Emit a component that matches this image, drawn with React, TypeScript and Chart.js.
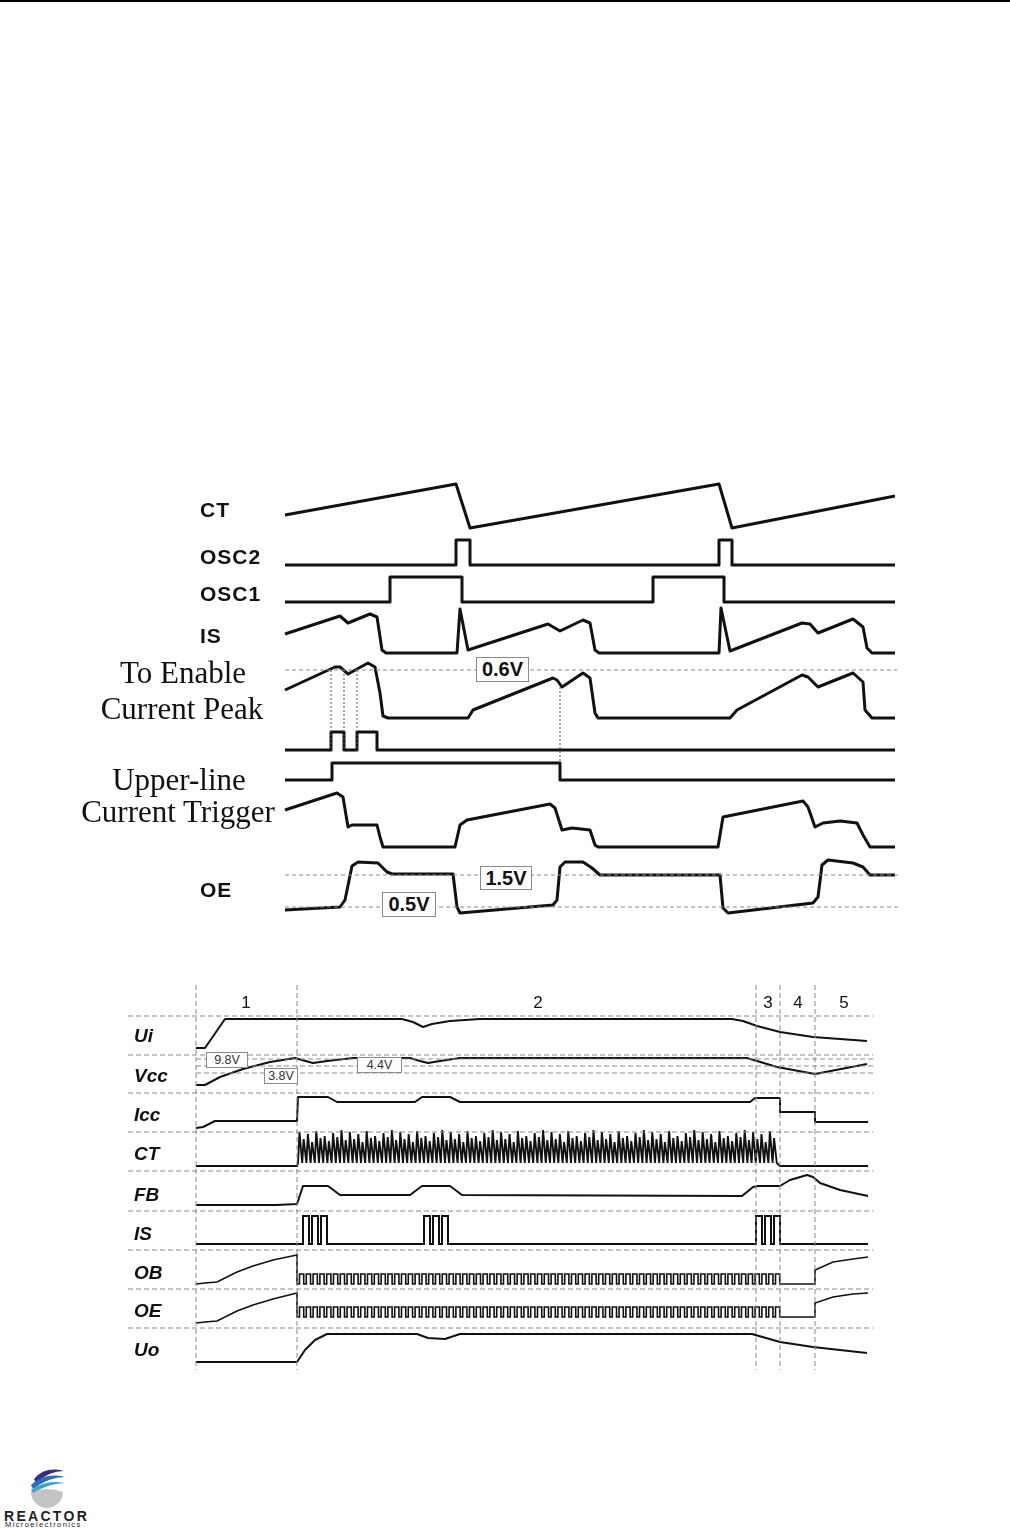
import React, { useEffect, useRef } from "react";
import { Chart, registerables } from "chart.js";

Chart.register(...registerables);

type P = [number, number];

// ================= TOP DIAGRAM =================
// time (diagram units from trace start), level (units above the trace's own low level)
const TOP_CT: P[] = [[0, 13], [171, 44], [185, 0], [434, 44], [447, 0], [610, 32]];
const TOP_OSC2: P[] = [[0, 0], [171, 0], [171, 25], [185, 25], [185, 0], [434, 0], [434, 25], [447, 25], [447, 0], [610, 0]];
const TOP_OSC1: P[] = [[0, 0], [105, 0], [105, 25], [177, 25], [177, 0], [368, 0], [368, 25], [439, 25], [439, 0], [610, 0]];
const TOP_IS: P[] = [
  [0, 19], [55, 37], [63, 30], [85, 39], [92, 36], [97, 3], [101, 0], [172, 0], [175, 44], [183, 3],
  [263, 29], [275, 22], [298, 33], [305, 30], [310, 3], [314, 0], [434, 0], [436, 45], [445, 2],
  [517, 30], [525, 29], [533, 20], [568, 34], [578, 26], [582, 5], [587, 0], [610, 0],
];
const TOP_PEAK: P[] = [
  [0, 28], [50, 51], [55, 51], [63, 44], [83, 55], [90, 51], [95, 25], [98, 2], [103, 0], [183, 0],
  [188, 8], [268, 40], [272, 38], [277, 31], [298, 45], [305, 40], [310, 5], [313, 0], [445, 0],
  [452, 8], [517, 43], [523, 41], [533, 31], [568, 45], [578, 36], [580, 8], [587, 0], [610, 0],
];
const TOP_CMP: P[] = [[0, 0], [46, 0], [46, 18], [59, 18], [59, 0], [72, 0], [72, 18], [92, 18], [92, 0], [610, 0]];
const TOP_UPPER: P[] = [[0, 0], [47, 0], [47, 17], [275, 17], [275, 0], [610, 0]];
const TOP_TRIG: P[] = [
  [0, 37], [52, 54], [58, 50], [63, 20], [67, 22], [92, 22], [95, 10], [98, 0], [170, 0], [175, 22],
  [182, 27], [265, 43], [270, 39], [277, 17], [287, 19], [305, 17], [310, 2], [313, 0], [433, 0],
  [438, 30], [518, 46], [523, 40], [530, 20], [538, 24], [555, 26], [572, 24], [578, 12], [585, 0], [610, 0],
];
const TOP_OE: P[] = [
  [0, 3], [55, 6], [60, 13], [67, 47], [73, 51], [93, 50], [102, 41], [107, 39], [168, 39], [172, 6],
  [175, 0], [268, 8], [272, 13], [275, 46], [280, 51], [298, 51], [307, 45], [315, 38], [435, 38],
  [438, 5], [443, 0], [528, 10], [533, 16], [537, 48], [543, 53], [568, 50], [578, 46], [585, 38], [610, 38],
];
// threshold levels
const TOP_TH_06 = 48; // on TOP_PEAK row
const TOP_TH_15 = 38; // on TOP_OE row
const TOP_TH_05 = 6; // on TOP_OE row
// comparator marker times
const TOP_MARK_T = [46, 59, 72, 275];
const TOP_LABELS = ["CT", "OSC2", "OSC1", "IS", "OE"];
const TOP_SERIF_LABELS = ["To Enable", "Current Peak", "Upper-line", "Current Trigger"];
const TOP_VALUE_TAGS = ["0.6V", "1.5V", "0.5V"];

// ================= BOTTOM DIAGRAM =================
const BOT_PHASES = ["1", "2", "3", "4", "5"];
const BOT_PHASE_T = [0, 101, 560, 584, 619, 672];
const BOT_ROWS = ["Ui", "Vcc", "Icc", "CT", "FB", "IS", "OB", "OE", "Uo"];
const BOT_UI: P[] = [
  [0, 0], [9, 0], [29, 29], [206, 29], [217, 26], [227, 21], [236, 24], [254, 27], [284, 29],
  [536, 29], [547, 27], [561, 22], [584, 16], [617, 11], [671, 7],
];
const BOT_VCC: P[] = [
  [0, 0], [9, 0], [24, 8], [47, 16], [74, 23], [99, 27], [106, 25], [117, 22], [131, 24], [157, 27],
  [214, 27], [224, 24], [232, 22], [244, 24], [264, 27], [551, 27], [561, 24], [581, 18], [619, 11], [671, 21],
];
const BOT_VCC_TAGS = ["9.8V", "3.8V", "4.4V"];
const BOT_ICC: P[] = [
  [0, 0], [7, 1], [19, 7], [101, 7], [102, 31], [132, 31], [141, 26], [219, 26], [226, 31], [254, 31],
  [264, 26], [554, 26], [559, 30], [584, 30], [584, 16], [619, 16], [619, 6], [672, 6],
];
// CT burst: start/end times, tooth period, repeating tooth peak levels, tooth floor
const BOT_CT_START = 102;
const BOT_CT_END = 584;
const BOT_CT_PERIOD = 4.2;
const BOT_CT_PEAKS = [34, 27, 32, 24, 35, 28, 30, 25, 33, 29, 36, 26];
const BOT_CT_FLOOR = 3;
const BOT_FB: P[] = [
  [0, 0], [81, 0], [101, 1], [107, 19], [132, 19], [144, 10], [214, 10], [226, 19], [254, 19], [266, 10],
  [546, 9], [557, 18], [562, 19], [584, 19], [594, 25], [611, 30], [617, 28], [624, 22], [644, 15], [672, 9],
];
const BOT_IS_PULSES: P[] = [
  [107, 113], [116, 122], [125, 131],
  [228, 234], [237, 243], [246, 252],
  [560, 566], [569, 575], [578, 584],
];
const BOT_IS_HIGH = 28;
const BOT_IS_END = 672;
const BOT_OB_RISE: P[] = [[0, 0], [9, 1], [21, 2], [41, 12], [57, 18], [77, 24], [101, 29]];
const BOT_OB_TAIL: P[] = [[619, 0], [619, 14], [637, 22], [657, 25], [672, 27]];
const BOT_OE_RISE: P[] = [[0, 0], [9, 1], [21, 2], [41, 12], [57, 18], [77, 24], [101, 30]];
const BOT_OE_TAIL: P[] = [[619, 6], [619, 20], [637, 26], [657, 29], [672, 30]];
const BOT_SQ_PERIOD = 6.8;
const BOT_SQ_DUTY = 0.62;
const BOT_SQ_AMP = 10;
const BOT_OE_SQ_LOW = 6;
const BOT_UO: P[] = [
  [0, 0], [101, 0], [109, 12], [119, 22], [131, 28], [221, 28], [232, 24], [249, 23], [264, 28],
  [556, 28], [584, 20], [617, 15], [671, 9],
];

// ================= LAYOUT =================
const TOP_X0 = 285;
const TOP_CANVAS = { top: 460, height: 480 };
const TOP_BASE = { CT: 528, OSC2: 565, OSC1: 602, IS: 653, PEAK: 718, CMP: 750, UPPER: 780, TRIG: 847, OE: 913 };
const BOT_X0 = 196;
const BOT_CANVAS = { top: 975, height: 410 };
const BOT_BASE = { Ui: 1048, Vcc: 1085, Icc: 1128, CT: 1166, FB: 1205, IS: 1244, OB: 1284, OE: 1323, Uo: 1362 };
const BOT_GRID_Y = [1016, 1055, 1093, 1132, 1171, 1211, 1250, 1289, 1328];
const BOT_VCC_REF_Y = [1059, 1066, 1073];

const INK = "#111";
const GRID = "#8a8a8a";

type DS = any;

function trace(pts: P[], base: number, width: number, extra: any = {}): DS {
  return {
    data: pts.map(([t, v]) => ({ x: t, y: base - v })),
    showLine: true,
    borderColor: INK,
    borderWidth: width,
    pointRadius: 0,
    fill: false,
    tension: 0,
    borderJoinStyle: "round",
    borderCapStyle: "butt",
    ...extra,
  };
}

function seg(x1: number, y1: number, x2: number, y2: number, width = 1, dash: number[] = [4, 3], color = GRID): DS {
  return {
    data: [{ x: x1, y: y1 }, { x: x2, y: y2 }],
    showLine: true,
    borderColor: color,
    borderWidth: width,
    borderDash: dash,
    pointRadius: 0,
    fill: false,
  };
}

function ctBurst(): P[] {
  const out: P[] = [[0, 0], [BOT_CT_START - 1, 0], [BOT_CT_START, BOT_CT_FLOOR]];
  let i = 0;
  for (let t = BOT_CT_START; t + BOT_CT_PERIOD <= BOT_CT_END + 0.5; t += BOT_CT_PERIOD, i++) {
    out.push([t + BOT_CT_PERIOD * 0.35, BOT_CT_PEAKS[i % BOT_CT_PEAKS.length]]);
    out.push([t + BOT_CT_PERIOD, BOT_CT_FLOOR]);
  }
  out.push([BOT_CT_END, 0], [672, 0]);
  return out;
}

function squareRun(rise: P[], tail: P[], low: number): P[] {
  const out: P[] = [...rise];
  const t0 = rise[rise.length - 1][0];
  out.push([t0, low]);
  for (let t = t0 + 2.5; t + BOT_SQ_PERIOD * BOT_SQ_DUTY < BOT_PHASE_T[3]; t += BOT_SQ_PERIOD) {
    out.push([t, low], [t, low + BOT_SQ_AMP], [t + BOT_SQ_PERIOD * BOT_SQ_DUTY, low + BOT_SQ_AMP], [t + BOT_SQ_PERIOD * BOT_SQ_DUTY, low]);
  }
  out.push([BOT_PHASE_T[3], low], ...tail);
  return out;
}

function isPulses(): P[] {
  const out: P[] = [[0, 0]];
  BOT_IS_PULSES.forEach(([a, b]) => {
    out.push([a, 0], [a, BOT_IS_HIGH], [b, BOT_IS_HIGH], [b, 0]);
  });
  out.push([BOT_IS_END, 0]);
  return out;
}

function topDatasets(): DS[] {
  const ds: DS[] = [];
  ds.push(seg(0, TOP_BASE.PEAK - TOP_TH_06, 612, TOP_BASE.PEAK - TOP_TH_06, 1, [4, 3]));
  ds.push(seg(0, TOP_BASE.OE - TOP_TH_15, 615, TOP_BASE.OE - TOP_TH_15, 1, [4, 3]));
  ds.push(seg(0, TOP_BASE.OE - TOP_TH_05, 615, TOP_BASE.OE - TOP_TH_05, 1, [4, 3]));
  TOP_MARK_T.forEach((t, i) => {
    const last = i === TOP_MARK_T.length - 1;
    ds.push(seg(t, last ? 687 : 670, t, last ? TOP_BASE.UPPER - 17 : TOP_BASE.CMP, 1, [2, 2], "#555"));
  });
  const w = 3;
  ds.push(trace(TOP_CT, TOP_BASE.CT, w));
  ds.push(trace(TOP_OSC2, TOP_BASE.OSC2, w));
  ds.push(trace(TOP_OSC1, TOP_BASE.OSC1, w));
  ds.push(trace(TOP_IS, TOP_BASE.IS, w));
  ds.push(trace(TOP_PEAK, TOP_BASE.PEAK, w));
  ds.push(trace(TOP_CMP, TOP_BASE.CMP, w));
  ds.push(trace(TOP_UPPER, TOP_BASE.UPPER, w));
  ds.push(trace(TOP_TRIG, TOP_BASE.TRIG, w));
  ds.push(trace(TOP_OE, TOP_BASE.OE, w));
  return ds;
}

function botDatasets(): DS[] {
  const ds: DS[] = [];
  const gx0 = 128 - BOT_X0;
  const gx1 = 873 - BOT_X0;
  BOT_GRID_Y.forEach((y) => ds.push(seg(gx0, y, gx1, y, 1, [5, 3])));
  BOT_VCC_REF_Y.forEach((y) => ds.push(seg(0, y, gx1, y, 1, [5, 3])));
  BOT_PHASE_T.slice(0, 5).forEach((t) => ds.push(seg(t, 985, t, 1370, 1, [5, 3])));
  const w = 2;
  ds.push(trace(BOT_UI, BOT_BASE.Ui, w));
  ds.push(trace(BOT_VCC, BOT_BASE.Vcc, w));
  ds.push(trace(BOT_ICC, BOT_BASE.Icc, w));
  ds.push(trace(ctBurst(), BOT_BASE.CT, 1.9, { borderJoinStyle: "miter" }));
  ds.push(trace(BOT_FB, BOT_BASE.FB, w));
  ds.push(trace(isPulses(), BOT_BASE.IS, w, { borderJoinStyle: "miter" }));
  ds.push(trace(squareRun(BOT_OB_RISE, BOT_OB_TAIL, 0), BOT_BASE.OB, 1.6, { borderJoinStyle: "miter" }));
  ds.push(trace(squareRun(BOT_OE_RISE, BOT_OE_TAIL, BOT_OE_SQ_LOW), BOT_BASE.OE, 1.6, { borderJoinStyle: "miter" }));
  ds.push(trace(BOT_UO, BOT_BASE.Uo, w));
  return ds;
}

function TimingCanvas({ top, height, x0, build }: { top: number; height: number; x0: number; build: () => DS[] }) {
  const ref = useRef<HTMLCanvasElement | null>(null);
  useEffect(() => {
    if (!ref.current) return;
    const chart = new Chart(ref.current, {
      type: "scatter",
      data: { datasets: build() },
      options: {
        responsive: false,
        animation: false,
        devicePixelRatio: 1,
        events: [],
        layout: { padding: 0 },
        plugins: { legend: { display: false }, tooltip: { enabled: false }, title: { display: false } },
        scales: {
          x: { type: "linear", display: false, min: -x0, max: 1010 - x0 },
          y: { type: "linear", display: false, reverse: true, min: top, max: top + height },
        },
      } as any,
    });
    return () => chart.destroy();
  }, []);
  return (
    <canvas
      ref={ref}
      width={1010}
      height={height}
      style={{ position: "absolute", left: 0, top, width: 1010, height }}
    />
  );
}

const SANS = "'Liberation Sans', Arial, sans-serif";
const SERIF = "'Liberation Serif', 'Times New Roman', serif";

function Txt({ x, base, size, children, style = {}, family = SANS, center = false, w = 300 }: any) {
  const asc = family === SERIF ? 0.8375 : 0.8465;
  return (
    <div
      style={{
        position: "absolute",
        left: center ? x - w / 2 : x,
        width: center ? w : undefined,
        textAlign: center ? "center" : "left",
        top: base - asc * size,
        fontSize: size,
        lineHeight: `${size}px`,
        fontFamily: family,
        whiteSpace: "nowrap",
        color: "#111",
        ...style,
      }}
    >
      {children}
    </div>
  );
}

function Tag({ x, y, w, h, size, bold, children, color = "#111" }: any) {
  return (
    <div
      style={{
        position: "absolute",
        left: x,
        top: y,
        width: w,
        height: h,
        boxSizing: "border-box",
        border: "1px solid #8a8a8a",
        background: "#fff",
        display: "flex",
        alignItems: "center",
        justifyContent: "center",
        fontFamily: SANS,
        fontSize: size,
        fontWeight: bold ? 700 : 400,
        color,
      }}
    >
      {children}
    </div>
  );
}

function Logo() {
  return (
    <div style={{ position: "absolute", left: 0, top: 1462, width: 100, height: 66 }}>
      <svg width={44} height={44} style={{ position: "absolute", left: 25, top: 3 }} viewBox="0 0 44 44">
        <path d="M6 27 A16 16 0 0 0 38 27 Q22 21 6 27 Z" fill="#c4c4c4" />
        <path d="M9 14 Q20 1 39 6 Q24 6 11 18 Z" fill="#3b2d7d" />
        <path d="M6 20 Q20 7 40 12 Q24 12 8 24 Z" fill="#2c6db3" />
        <path d="M6 25 Q21 14 40 18 Q25 18 8 28 Z" fill="#3aa3d8" />
      </svg>
      <div style={{ position: "absolute", left: 4, top: 47, fontFamily: SANS, fontWeight: 700, fontSize: 14, letterSpacing: 2.3, color: "#222", lineHeight: "14px" }}>
        REACTOR
      </div>
      <div style={{ position: "absolute", left: 5, top: 59, fontFamily: SANS, fontSize: 7.5, letterSpacing: 1.4, color: "#222", lineHeight: "8px" }}>
        Microelectronics
      </div>
    </div>
  );
}

export default function App() {
  const topBases = [517, 564, 601, 643, 897];
  const serifBases = [683, 719, 790, 822];
  const serifCenters = [183, 182, 179, 178];
  const rowBases = [1042, 1082, 1121, 1160, 1201, 1240, 1279, 1317, 1356];
  const phaseCenters = [246, 538, 768, 798, 844];
  return (
    <div style={{ position: "absolute", left: 0, top: 0, width: 1010, height: 1528, background: "#fff", overflow: "hidden" }}>
      <div style={{ position: "absolute", left: 0, top: 0, width: 1010, height: 2, background: "#000" }} />
      <TimingCanvas top={TOP_CANVAS.top} height={TOP_CANVAS.height} x0={TOP_X0} build={topDatasets} />
      <TimingCanvas top={BOT_CANVAS.top} height={BOT_CANVAS.height} x0={BOT_X0} build={botDatasets} />

      {TOP_LABELS.map((s, i) => (
        <Txt key={s + i} x={200} base={topBases[i]} size={21} style={{ fontWeight: 700, letterSpacing: 1 }}>
          {s}
        </Txt>
      ))}
      {TOP_SERIF_LABELS.map((s, i) => (
        <Txt key={s} x={serifCenters[i]} base={serifBases[i]} size={31} family={SERIF} center>
          {s}
        </Txt>
      ))}
      <Tag x={476} y={657} w={53} h={25} size={20} bold>{TOP_VALUE_TAGS[0]}</Tag>
      <Tag x={480} y={866} w={52} h={24} size={20} bold>{TOP_VALUE_TAGS[1]}</Tag>
      <Tag x={382} y={892} w={54} h={25} size={20} bold>{TOP_VALUE_TAGS[2]}</Tag>

      {BOT_PHASES.map((s, i) => (
        <Txt key={"p" + s} x={phaseCenters[i]} base={1008} size={17} center w={40}>
          {s}
        </Txt>
      ))}
      {BOT_ROWS.map((s, i) => (
        <Txt key={"r" + s} x={134} base={rowBases[i]} size={19} style={{ fontWeight: 700, fontStyle: "italic" }}>
          {s}
        </Txt>
      ))}
      <Tag x={206} y={1052} w={42} h={16} size={12.5} color="#333">{BOT_VCC_TAGS[0]}</Tag>
      <Tag x={264} y={1068} w={34} h={16} size={12.5} color="#333">{BOT_VCC_TAGS[1]}</Tag>
      <Tag x={357} y={1057} w={45} h={16} size={12.5} color="#333">{BOT_VCC_TAGS[2]}</Tag>

      <Logo />
    </div>
  );
}
